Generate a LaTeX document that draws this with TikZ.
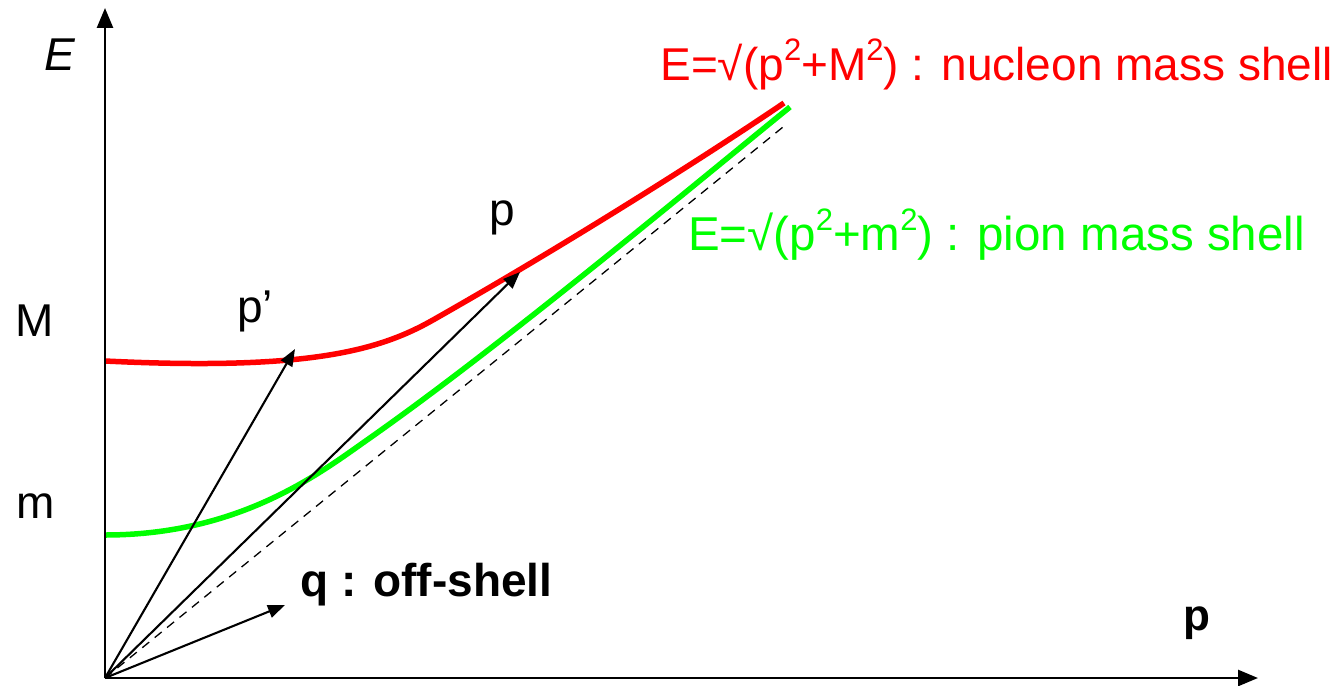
\documentclass[tikz,border=0pt]{standalone}
\usepackage{fontspec}
\setmainfont{Liberation Sans}
\usepackage{xcolor}
\usetikzlibrary{positioning, arrows.meta}

\definecolor{shellred}{RGB}{255,0,0}
\definecolor{shellgreen}{RGB}{0,255,0}
\newcommand{\sqr}{\raisebox{0.42em}{\fontsize{31}{31}\selectfont 2}}

\begin{document}
\begin{tikzpicture}[
      x=1pt, y=-1pt,
      lbl/.style={inner sep=0pt, font=\fontsize{46}{50}\selectfont},
      axis/.style={line width=2.6pt, -{Triangle[length=20pt, width=16pt]}},
      vec/.style={line width=2.1pt, -{Triangle[length=17pt, width=13pt]}},
      shell/.style={line width=5.5pt}
    ]
    \useasboundingbox (0,0) rectangle (1343,685);

    \coordinate (O) at (105,678);
    \coordinate (Etop) at (105,8);
    \coordinate (pend) at (1258,678);
    \coordinate (lightcone) at (783,127);
    \coordinate (pp) at (295,349);
    \coordinate (pk) at (520,272);
    \coordinate (qk) at (285,605);

    % mass shells
    \draw[shell, shellred] (105,361) .. controls (310,371) and (380,350) .. (433,320)
                                     .. controls (560,248) and (700,160) .. (784,103);
    \draw[shell, shellgreen] (105,535) .. controls (240,535) and (320,473) .. (367,440)
                                       .. controls (500,347) and (700,180) .. (790,107);

    \draw[dashed, line width=1.3pt, dash pattern=on 9pt off 7pt] (O) -- (lightcone);

    % axes
    \draw[axis] (O) -- (Etop);
    \draw[axis] (O) -- (pend);

    % momenta
    \draw[vec] (O) -- (pp);
    \draw[vec] (O) -- (pk);
    \draw[vec] (O) -- (qk);

    \node[lbl] (Elbl) at (60,55) {\textit{E}};
    \node[lbl] (Mlbl) at (35,321) {M};
    \node[lbl] (mlbl) at (36,506) {m};
    \node[lbl, anchor=base] (pplbl) at (255,322) {p’};
    \node[lbl, anchor=base] (pklbl) at (502,225) {p};
    \node[lbl, anchor=base west, font=\fontsize{46}{50}\selectfont\bfseries] (qlbl) at (300,596) {q : off-shell};
    \node[lbl, anchor=base, font=\fontsize{44}{50}\selectfont\bfseries] (paxis) at (1197,630) {p};

    \node[lbl, anchor=base east, shellred] (nucleon) at (1333,80) {E=√(p\sqr+M\sqr) : nucleon mass shell};
    \node[lbl, anchor=base west, shellgreen, font=\fontsize{47.5}{50}\selectfont] (pion) at (688,250) {E=√(p\sqr+m\sqr) : pion mass shell};
  \end{tikzpicture}
\end{document}
